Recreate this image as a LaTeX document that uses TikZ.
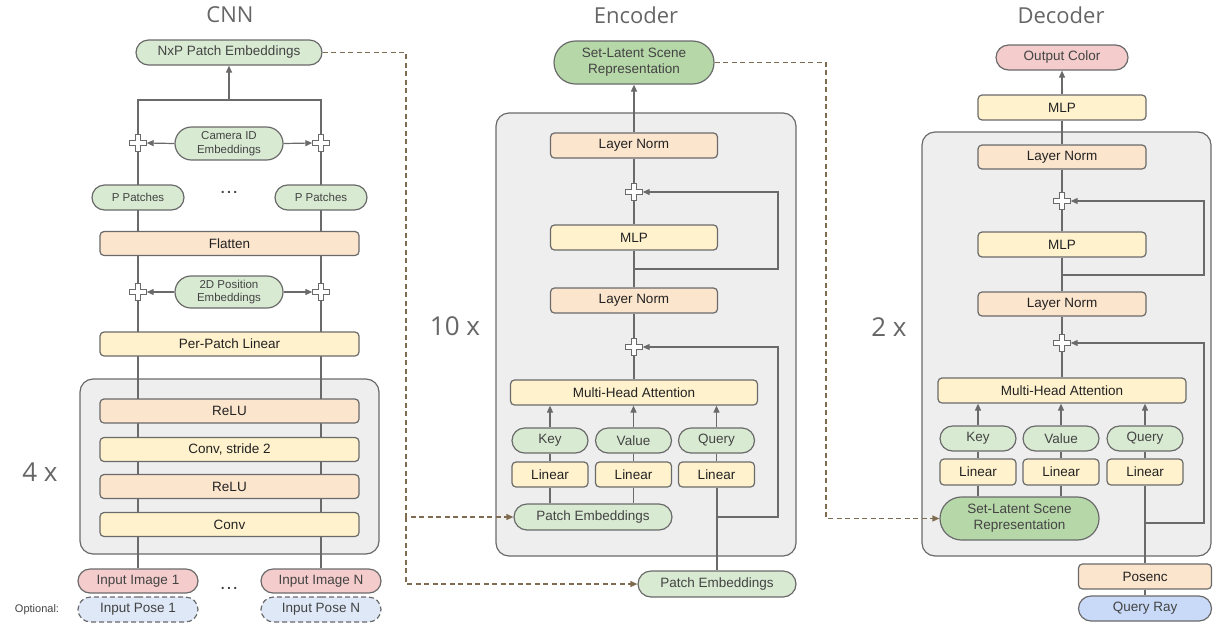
\documentclass[tikz,border=0pt]{standalone}
\usepackage{fontspec}
\setmainfont{Liberation Sans}
\newfontfamily\titlefont{Open Sans}
\usetikzlibrary{arrows.meta,shapes.misc,calc}
\definecolor{lg}{HTML}{6A6A6A}
\definecolor{gfill}{HTML}{D9EAD3}
\definecolor{dgfill}{HTML}{B6D7A8}
\definecolor{ofill}{HTML}{FCE5CD}
\definecolor{yfill}{HTML}{FFF2CC}
\definecolor{pfill}{HTML}{F4CCCC}
\definecolor{bfill}{HTML}{DFE8F7}
\definecolor{qfill}{HTML}{C9DAF8}
\definecolor{cfill}{HTML}{EEEEEE}
\definecolor{brn}{HTML}{7F6B4F}
\definecolor{tgray}{HTML}{434343}
\definecolor{ttlc}{HTML}{666666}
\definecolor{tdark}{HTML}{222222}
\pgfdeclarelayer{cont}\pgfdeclarelayer{bg}\pgfsetlayers{cont,bg,main}
\tikzset{
 base/.style={draw=lg, line width=1.2pt, inner sep=0pt, align=center, font=\fontsize{13.5}{16}\selectfont},
 sbox/.style={base, rectangle, rounded corners=4pt, text=tdark},
 pill/.style={base, rounded rectangle, text=tgray},
 small/.style={font=\fontsize{11.5}{13.5}\selectfont},
 wh/.style 2 args={minimum width=#1pt, minimum height=#2pt},
 conn/.style={draw=lg, line width=1.2pt},
 arr/.style={conn, -{Triangle[length=7pt,width=6pt]}},
 dsh/.style={draw=brn, line width=1.3pt, dash pattern=on 5pt off 3.5pt},
 darr/.style={dsh, -{Triangle[length=7pt,width=6pt]}},
 container/.style={draw=lg, fill=cfill, line width=1.2pt, rounded corners=13pt, inner sep=0pt},
 ttl/.style={text=ttlc, font=\titlefont\fontsize{22}{24}\selectfont},
 rep/.style={text=ttlc, font=\titlefont\fontsize{26}{28}\selectfont},
 dots/.style={text=tgray, font=\bfseries\fontsize{14}{14}\selectfont},
 plusn/.style={minimum size=17pt, inner sep=0pt},
 pics/crossplus/.style={code={\draw[fill=white,draw=lg,line width=1.1pt]
   (-2.8,-8.5) -- (2.8,-8.5) -- (2.8,-2.8) -- (8.5,-2.8) -- (8.5,2.8) -- (2.8,2.8) --
   (2.8,8.5) -- (-2.8,8.5) -- (-2.8,2.8) -- (-8.5,2.8) -- (-8.5,-2.8) -- (-2.8,-2.8) -- cycle;}}
}
\begin{document}
\begin{tikzpicture}[x=1pt,y=-1pt]
\useasboundingbox (0,0) rectangle (1215,625);
% ---------------- CNN ----------------
\node[ttl] (tcnn) at (230,15) {CNN};
\node[pill, fill=gfill, wh={186}{25}] (nxp) at (229,52.5) {NxP Patch Embeddings};
\node[pill, fill=gfill, wh={108}{33}, small] (cam) at (229,143.5) {Camera ID\\Embeddings};
\node[plusn] (cpl1) at (138,143) {};
\node[plusn] (cpr1) at (321,143) {};
\node[pill, fill=gfill, wh={92}{25}, small] (pp1) at (138,197.5) {P Patches};
\node[pill, fill=gfill, wh={92}{25}, small] (ppN) at (321,197.5) {P Patches};
\node[dots] (dt1) at (229,192) {.\,.\,.};
\node[sbox, fill=ofill, wh={259}{24}] (flat) at (229.5,243.5) {Flatten};
\node[pill, fill=gfill, wh={108}{32}, small] (pos) at (229,292) {2D Position\\Embeddings};
\node[plusn] (cpl2) at (138,292) {};
\node[plusn] (cpr2) at (321,292) {};
\node[sbox, fill=yfill, wh={259}{24}] (ppl) at (229.5,344) {Per-Patch Linear};
\begin{pgfonlayer}{cont}
\node[container, wh={299}{175}] (blk1) at (229.5,466.5) {};
\end{pgfonlayer}
\node[sbox, fill=ofill, wh={259}{24}] (relu1) at (229.5,411) {ReLU};
\node[sbox, fill=yfill, wh={259}{24}] (convs) at (229.5,449.5) {Conv, stride 2};
\node[sbox, fill=ofill, wh={259}{24}] (relu2) at (229.5,486.5) {ReLU};
\node[sbox, fill=yfill, wh={259}{24}] (conv) at (229.5,524.5) {Conv};
\node[pill, fill=pfill, wh={120}{24}] (img1) at (138,581) {Input Image 1};
\node[pill, fill=pfill, wh={120}{24}] (imgN) at (321,581) {Input Image N};
\node[pill, fill=bfill, wh={120}{25}, dash pattern=on 5pt off 3pt] (pose1) at (138,609.5) {Input Pose 1};
\node[pill, fill=bfill, wh={120}{25}, dash pattern=on 5pt off 3pt] (poseN) at (321,609.5) {Input Pose N};
\node[dots] (dt2) at (229,588) {.\,.\,.};
\node[text=tgray, font=\fontsize{11}{13}\selectfont] (opt) at (37,609.5) {Optional:};
\node[rep] (fx) at (40,472) {4 x};
\begin{pgfonlayer}{bg}
\coordinate (top1) at (229,100);
\draw[conn] (img1.north) -- (img1.north |- top1) -- (imgN.north |- top1) -- (imgN.north);
\draw[arr] (top1) -- (nxp.south);
\draw[arr] (cam.west) -- (cpl1.east);
\draw[arr] (cam.east) -- (cpr1.west);
\draw[arr] (pos.west) -- (cpl2.east);
\draw[arr] (pos.east) -- (cpr2.west);
\end{pgfonlayer}
\pic at (cpl1) {crossplus};
\pic at (cpr1) {crossplus};
\pic at (cpl2) {crossplus};
\pic at (cpr2) {crossplus};
% ---------------- Encoder ----------------
\node[ttl] (tenc) at (636,15) {Encoder};
\node[pill, fill=dgfill, wh={160}{43}] (slsr1) at (634,62.5) {Set-Latent Scene\\Representation};
\begin{pgfonlayer}{cont}
\node[container, wh={300}{443}] (blk2) at (646,334.5) {};
\end{pgfonlayer}
\node[sbox, fill=ofill, wh={167}{25}] (ln1) at (634,145.5) {Layer Norm};
\node[plusn] (pe1) at (634,192) {};
\node[sbox, fill=yfill, wh={167}{25}] (mlpe) at (634,237.5) {MLP};
\node[sbox, fill=ofill, wh={167}{25}] (ln2) at (634,300.5) {Layer Norm};
\node[plusn] (pe2) at (634,347) {};
\node[sbox, fill=yfill, wh={247}{25}] (mhae) at (634,392.5) {Multi-Head Attention};
\node[pill, fill=gfill, wh={76}{25}] (keye) at (550,440.5) {Key};
\node[pill, fill=gfill, wh={76}{25}] (vale) at (633.5,440.5) {Value};
\node[pill, fill=gfill, wh={76}{25}] (qrye) at (716.5,440.5) {Query};
\node[sbox, fill=yfill, wh={76}{25}] (lke) at (550,474.5) {Linear};
\node[sbox, fill=yfill, wh={76}{25}] (lve) at (633.5,474.5) {Linear};
\node[sbox, fill=yfill, wh={76}{25}] (lqe) at (716.5,474.5) {Linear};
\node[pill, fill=gfill, wh={158}{26}] (pein) at (593,517) {Patch Embeddings};
\node[pill, fill=gfill, wh={158}{26}] (peout) at (717,584) {Patch Embeddings};
\node[rep] (tx) at (455,326) {10 x};
\begin{pgfonlayer}{bg}
\draw[arr] (ln1.north) -- (slsr1.south);
\draw[conn] (ln1.south) -- (mlpe.north);
\draw[conn] (mlpe.south) -- (ln2.north);
\coordinate (rte) at (778,0);
\coordinate (bre1) at (634,269);
\draw[arr] (bre1) -- (bre1 -| rte) |- (pe1.east);
\draw[conn] (ln2.south) -- (mhae.north);
\coordinate (bre2) at (717,517);
\draw[arr] (bre2) -- (bre2 -| rte) |- (pe2.east);
\draw[arr] (keye.north) -- (keye.north |- mhae.south);
\draw[arr] (vale.north) -- (vale.north |- mhae.south);
\draw[arr] (qrye.north) -- (qrye.north |- mhae.south);
\draw[conn] (keye.south) -- (lke.north);
\draw[conn] (vale.south) -- (lve.north);
\draw[conn] (qrye.south) -- (lqe.north);
\draw[conn] (lke.south) -- (lke.south |- pein.north);
\draw[conn] (lve.south) -- (lve.south |- pein.north);
\draw[conn] (lqe.south -| peout.north) -- (peout.north);
\coordinate (dx1) at (406,0);
\draw[darr] (nxp.east) -| (dx1 |- pein.west) -- (pein.west);
\draw[darr] (dx1 |- pein.west) -- (dx1 |- peout.west) -- (peout.west);
\end{pgfonlayer}
\pic at (pe1) {crossplus};
\pic at (pe2) {crossplus};
% ---------------- Decoder ----------------
\node[ttl] (tdec) at (1061,15) {Decoder};
\node[pill, fill=pfill, wh={132}{25}] (outc) at (1062,57.5) {Output Color};
\node[sbox, fill=yfill, wh={168}{25}] (mlpd1) at (1062,107.5) {MLP};
\begin{pgfonlayer}{cont}
\node[container, wh={289}{424}] (blk3) at (1066.5,344) {};
\end{pgfonlayer}
\node[sbox, fill=ofill, wh={168}{24}] (lnd1) at (1062,157) {Layer Norm};
\node[plusn] (pd1) at (1062,201) {};
\node[sbox, fill=yfill, wh={168}{25}] (mlpd2) at (1062,244.5) {MLP};
\node[sbox, fill=ofill, wh={168}{24}] (lnd2) at (1062,304) {Layer Norm};
\node[plusn] (pd2) at (1062,343) {};
\node[sbox, fill=yfill, wh={248}{25}] (mhad) at (1062,390.5) {Multi-Head Attention};
\node[pill, fill=gfill, wh={76}{25}] (keyd) at (978,438.5) {Key};
\node[pill, fill=gfill, wh={76}{25}] (vald) at (1061,438.5) {Value};
\node[pill, fill=gfill, wh={76}{25}] (qryd) at (1145,438.5) {Query};
\node[sbox, fill=yfill, wh={76}{26}] (lkd) at (978,472) {Linear};
\node[sbox, fill=yfill, wh={76}{26}] (lvd) at (1061,472) {Linear};
\node[sbox, fill=yfill, wh={76}{26}] (lqd) at (1145,472) {Linear};
\node[pill, fill=dgfill, wh={159}{43}] (slsr2) at (1019.5,518.5) {Set-Latent Scene\\Representation};
\node[sbox, fill=ofill, wh={133}{25}] (posenc) at (1145,576.5) {Posenc};
\node[pill, fill=qfill, wh={133}{25}] (qray) at (1145,608.5) {Query Ray};
\node[rep] (twx) at (889,327) {2 x};
\begin{pgfonlayer}{bg}
\draw[arr] (mlpd1.north) -- (outc.south);
\draw[conn] (mlpd1.south) -- (lnd1.north);
\draw[conn] (lnd1.south) -- (mlpd2.north);
\draw[conn] (mlpd2.south) -- (lnd2.north);
\coordinate (rtd) at (1204,0);
\coordinate (brd1) at (1062,275);
\draw[arr] (brd1) -- (brd1 -| rtd) |- (pd1.east);
\draw[conn] (lnd2.south) -- (mhad.north);
\coordinate (brd2) at (1145,523);
\draw[arr] (brd2) -- (brd2 -| rtd) |- (pd2.east);
\draw[arr] (keyd.north) -- (keyd.north |- mhad.south);
\draw[arr] (vald.north) -- (vald.north |- mhad.south);
\draw[arr] (qryd.north) -- (qryd.north |- mhad.south);
\draw[conn] (keyd.south) -- (lkd.north);
\draw[conn] (vald.south) -- (lvd.north);
\draw[conn] (qryd.south) -- (lqd.north);
\draw[conn] (lkd.south) -- (lkd.south |- slsr2.north);
\draw[conn] (lvd.south) -- (lvd.south |- slsr2.north);
\draw[conn] (lqd.south) -- (posenc.north);
\draw[conn] (posenc.south) -- (qray.north);
\coordinate (dx2) at (826,0);
\draw[darr] (slsr1.east) -| (dx2 |- slsr2.west) -- (slsr2.west);
\end{pgfonlayer}
\pic at (pd1) {crossplus};
\pic at (pd2) {crossplus};
\end{tikzpicture}
\end{document}
